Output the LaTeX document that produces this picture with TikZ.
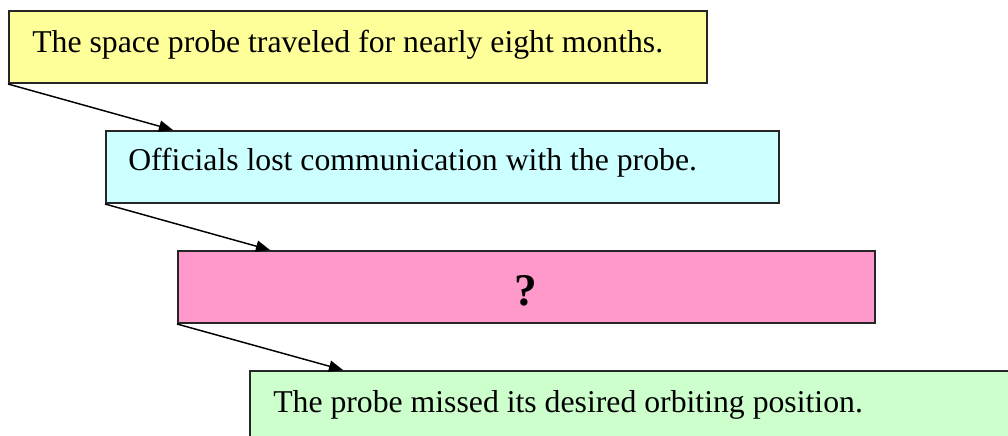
\documentclass[tikz,border=0pt]{standalone}
\usepackage{fontspec}
\setmainfont{Liberation Serif}
\usetikzlibrary{arrows.meta,calc}
\definecolor{cyellow}{HTML}{FFFF99}
\definecolor{ccyan}{HTML}{CCFFFF}
\definecolor{cpink}{HTML}{FF99CC}
\definecolor{cgreen}{HTML}{CCFFCC}
\definecolor{cborder}{HTML}{262626}
\begin{document}
\begin{tikzpicture}[x=0.75pt,y=-0.75pt,
  box/.style={draw=cborder,line width=1.5pt,inner sep=0pt,anchor=north west,minimum height=54pt},
  lbl/.style={anchor=base west,inner sep=0pt,font=\fontsize{23.8}{28}\selectfont},
  link/.style={draw=black,line width=1.1pt,-{Triangle[length=10.5pt,width=8.5pt]}}]
\useasboundingbox (0,0) rectangle (1008,436);
\clip (0,0) rectangle (1008,436);
\node[box,fill=cyellow,minimum width=523.5pt] (y) at (8,10) {};
\node[box,fill=ccyan,minimum width=504.75pt] (c) at (105,130) {};
\node[box,fill=cpink,minimum width=522.75pt] (p) at (177,250) {};
\node[box,fill=cgreen,minimum width=580pt,minimum height=60pt] (g) at (249,370) {};
\node[lbl] (ty) at (32,52) {The space probe traveled for nearly eight months.};
\node[lbl] (tc) at (128,170) {Officials lost communication with the probe.};
\node[anchor=base,inner sep=0pt,font=\fontsize{34}{40}\selectfont\bfseries] (tp) at (525.5,305) {?};
\node[lbl] (tg) at (273,412) {The probe missed its desired orbiting position.};
\coordinate (e1) at ($(c.north west)+(51pt,0)$);
\coordinate (e2) at ($(p.north west)+(69.75pt,0)$);
\coordinate (e3) at ($(g.north west)+(70.5pt,0)$);
\draw[link] (y.south west) -- (e1);
\draw[link] (c.south west) -- (e2);
\draw[link] (p.south west) -- (e3);
\end{tikzpicture}
\end{document}
